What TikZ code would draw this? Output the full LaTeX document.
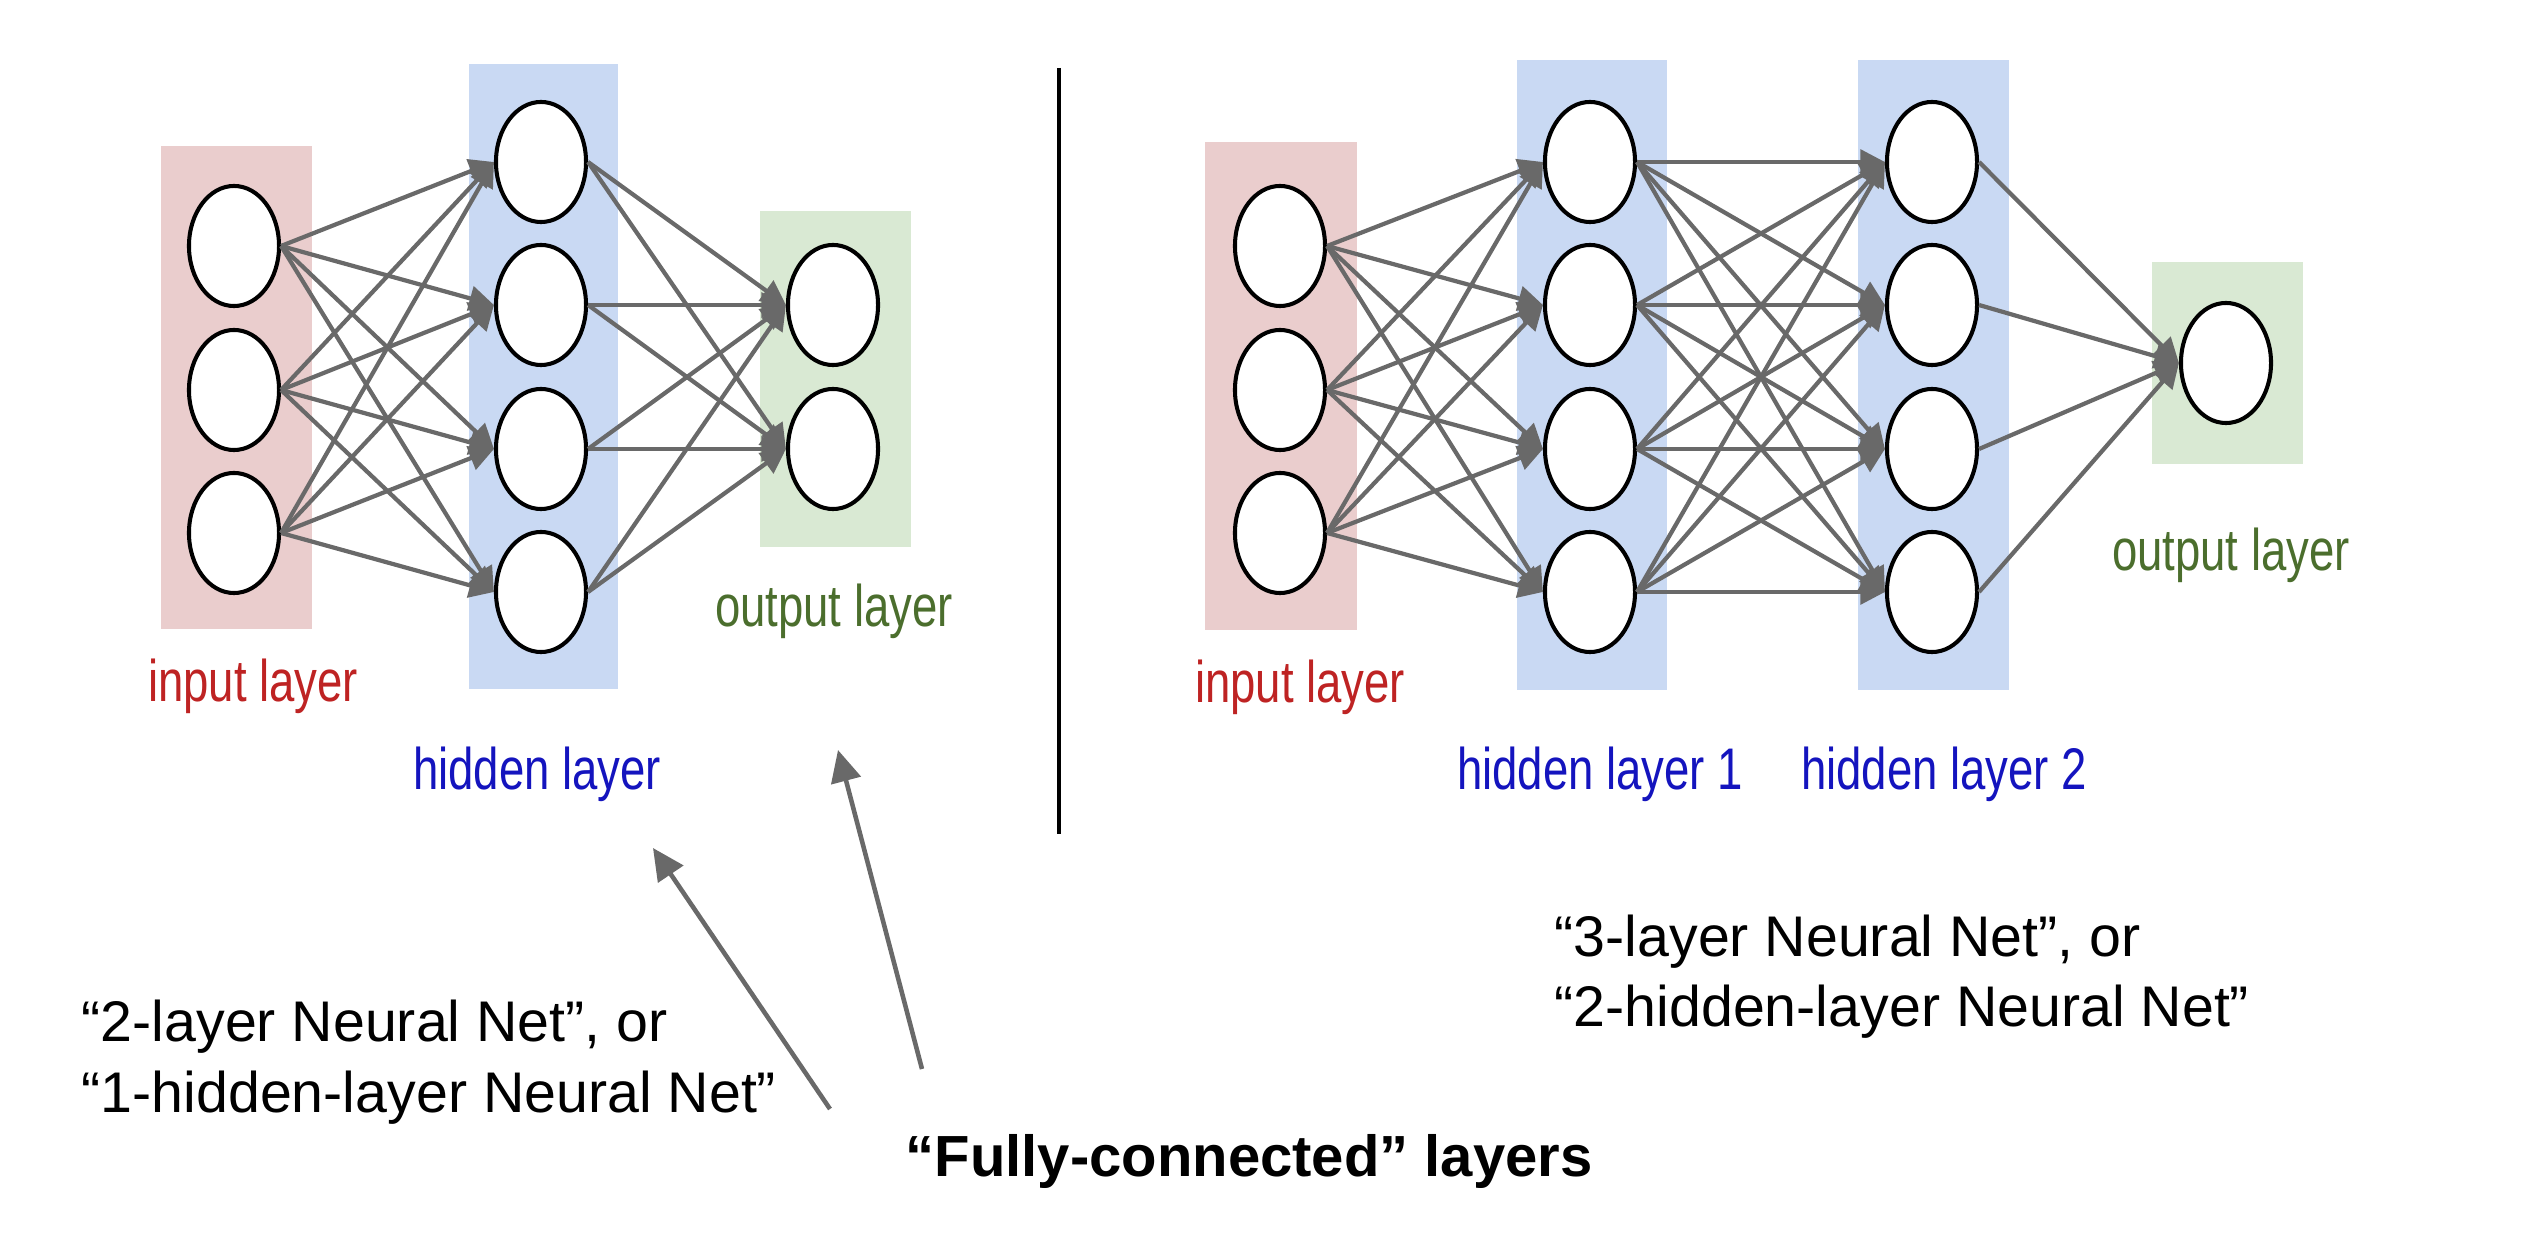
\documentclass[tikz,border=0pt]{standalone}
\usepackage{fontspec}
\setmainfont{Liberation Sans}
\newfontfamily\layerfont[FakeStretch=0.775]{Liberation Sans}
\usepackage{xcolor}
\usetikzlibrary{positioning, arrows.meta, shapes.geometric}

\definecolor{inputfill}{RGB}{234,205,205}
\definecolor{hiddenfill}{RGB}{201,217,243}
\definecolor{outputfill}{RGB}{217,233,211}
\definecolor{inputtext}{RGB}{190,35,35}
\definecolor{hiddentext}{RGB}{20,20,190}
\definecolor{outputtext}{RGB}{75,110,45}
\definecolor{edgegray}{RGB}{105,105,105}

\begin{document}
\begin{tikzpicture}[x=0.01cm, y=-0.01cm,
    neuron/.style={draw, line width=1.15pt, fill=white, ellipse, minimum width=0.9cm, minimum height=1.2cm, inner sep=0pt},
    edge/.style={draw=edgegray, line width=1.2pt, -{Triangle[length=7pt, width=7pt]}},
    layerlabel/.style={font=\layerfont\fontsize{16.7}{20}\selectfont, anchor=base, inner sep=0pt},
    note/.style={font=\fontsize{16.3}{20}\selectfont, anchor=base west, inner sep=0pt},
    pointer/.style={draw=edgegray, line width=1.3pt, -{Triangle[length=9pt, width=8.5pt]}}]
    \useasboundingbox (0,0) rectangle (2526,1240);

    % Layer boxes (2-layer net)
    \fill[inputfill] (161,146) rectangle (312,629);
    \fill[hiddenfill] (469,64) rectangle (618,689);
    \fill[outputfill] (760,211) rectangle (911,547);

    % Layer boxes (3-layer net)
    \fill[inputfill] (1205,142) rectangle (1357,630);
    \fill[hiddenfill] (1517,60) rectangle (1667,690);
    \fill[hiddenfill] (1858,60) rectangle (2009,690);
    \fill[outputfill] (2152,262) rectangle (2303,464);

    % Neurons (2-layer net)
    \foreach \i/\y in {1/246,2/390,3/533} \node[neuron] (li\i) at (234,\y) {};
    \foreach \i/\y in {1/162,2/305,3/449,4/592} \node[neuron] (lh\i) at (541,\y) {};
    \foreach \i/\y in {1/305,2/449} \node[neuron] (lo\i) at (833,\y) {};

    % Neurons (3-layer net)
    \foreach \i/\y in {1/246,2/390,3/533} \node[neuron] (ri\i) at (1280,\y) {};
    \foreach \i/\y in {1/162,2/305,3/449,4/592} \node[neuron] (ra\i) at (1590,\y) {};
    \foreach \i/\y in {1/162,2/305,3/449,4/592} \node[neuron] (rb\i) at (1932,\y) {};
    \node[neuron] (ro) at (2226,363) {};

    % Fully-connected edges
    \foreach \i in {1,...,3} \foreach \j in {1,...,4} \draw[edge] (li\i.east) -- (lh\j.west);
    \foreach \i in {1,...,4} \foreach \j in {1,2} \draw[edge] (lh\i.east) -- (lo\j.west);
    \foreach \i in {1,...,3} \foreach \j in {1,...,4} \draw[edge] (ri\i.east) -- (ra\j.west);
    \foreach \i in {1,...,4} \foreach \j in {1,...,4} \draw[edge] (ra\i.east) -- (rb\j.west);
    \foreach \i in {1,...,4} \draw[edge] (rb\i.east) -- (ro.west);

    % Layer labels
    \node[layerlabel, text=inputtext] (linlabel) at (253,702) {input layer};
    \node[layerlabel, text=hiddentext] (lhidlabel) at (537,790) {hidden layer};
    \node[layerlabel, text=outputtext] (loutlabel) at (834,627) {output layer};
    \node[layerlabel, text=inputtext] (rinlabel) at (1300,703) {input layer};
    \node[layerlabel, text=hiddentext] (rhidalabel) at (1600,790) {hidden layer 1};
    \node[layerlabel, text=hiddentext] (rhidblabel) at (1944,790) {hidden layer 2};
    \node[layerlabel, text=outputtext] (routlabel) at (2231,571) {output layer};

    % Divider
    \draw[line width=1.4pt] (1059,68) -- (1059,834);

    % Notes
    \node[note] (twolayer) at (81,1042) {“2-layer Neural Net”, or};
    \node[note] (onehidden) at (81,1113) {“1-hidden-layer Neural Net”};
    \node[note] (threelayer) at (1554,957) {“3-layer Neural Net”, or};
    \node[note] (twohidden) at (1554,1027) {“2-hidden-layer Neural Net”};
    \node[note, font=\bfseries\fontsize{16.5}{20}\selectfont] (fclayers) at (905,1177) {“Fully-connected” layers};

    % Pointers
    \coordinate (tailA) at (830,1109);
    \coordinate (tipA) at (653,848);
    \coordinate (tailB) at (922,1069);
    \coordinate (tipB) at (838,750);
    \draw[pointer] (tailA) -- (tipA);
    \draw[pointer] (tailB) -- (tipB);
\end{tikzpicture}
\end{document}
